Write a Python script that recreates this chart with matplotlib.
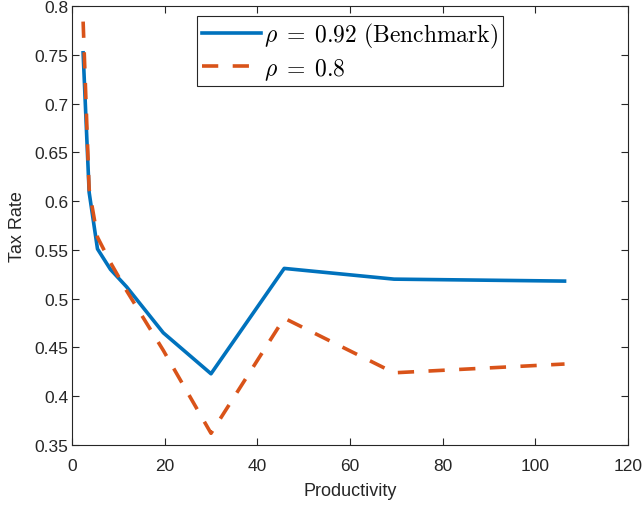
import matplotlib
matplotlib.use('Agg')
import matplotlib.pyplot as plt

plt.rcParams['font.family'] = ['Liberation Sans', 'DejaVu Sans']
plt.rcParams['mathtext.fontset'] = 'cm'

# values
productivity = [2.4, 3.7, 5.5, 8.3, 11.8, 19.7, 30.0, 45.8, 69.5, 106.3]
tax_bench = [0.752, 0.609, 0.551, 0.530, 0.512, 0.465, 0.423, 0.531, 0.520, 0.518]
tax_rho08 = [0.784, 0.612, 0.563, 0.537, 0.508, 0.447, 0.362, 0.480, 0.424, 0.433]

xticks = [0, 20, 40, 60, 80, 100, 120]
yticks = [0.35, 0.4, 0.45, 0.5, 0.55, 0.6, 0.65, 0.7, 0.75, 0.8]
ytick_labels = ['0.35', '0.4', '0.45', '0.5', '0.55', '0.6', '0.65', '0.7', '0.75', '0.8']

blue = '#0072BD'
orange = '#D95319'
axcol = '#262626'

fig = plt.figure(figsize=(6.44, 5.06), dpi=100)
ax = fig.add_axes([0.1118, 0.1186, 0.8634, 0.8676])

ax.plot(productivity, tax_bench, color=blue, lw=2.6,
        label=r'$\rho\;=\;0.92\ \mathrm{(Benchmark)}$')
ax.plot(productivity, tax_rho08, color=orange, lw=2.6, dashes=[4.5, 4],
        label=r'$\rho\;=\;0.8$')

ax.set_xlim(0, 120)
ax.set_ylim(0.35, 0.8)
ax.set_xticks(xticks)
ax.set_yticks(yticks)
ax.set_yticklabels(ytick_labels)
ax.tick_params(direction='in', top=True, right=True, length=5, width=0.8,
               colors=axcol, labelsize=12.5, labelcolor=axcol)
ax.tick_params(axis='x', pad=9.5)
ax.tick_params(axis='y', pad=2.5)
for sp in ax.spines.values():
    sp.set_color(axcol)
    sp.set_linewidth(0.8)

ax.set_xlabel('Productivity', fontsize=13, color=axcol, labelpad=6)
ax.set_ylabel('Tax Rate', fontsize=13, color=axcol, labelpad=6)

leg = ax.legend(loc='upper center', bbox_to_anchor=(0.5, 0.977), fontsize=17,
                handlelength=2.5, handletextpad=0.15, borderpad=0.2,
                labelspacing=0.25, fancybox=False, framealpha=1,
                edgecolor=axcol, borderaxespad=0)
leg.get_frame().set_linewidth(0.8)

fig.savefig('out.png', dpi=100)
